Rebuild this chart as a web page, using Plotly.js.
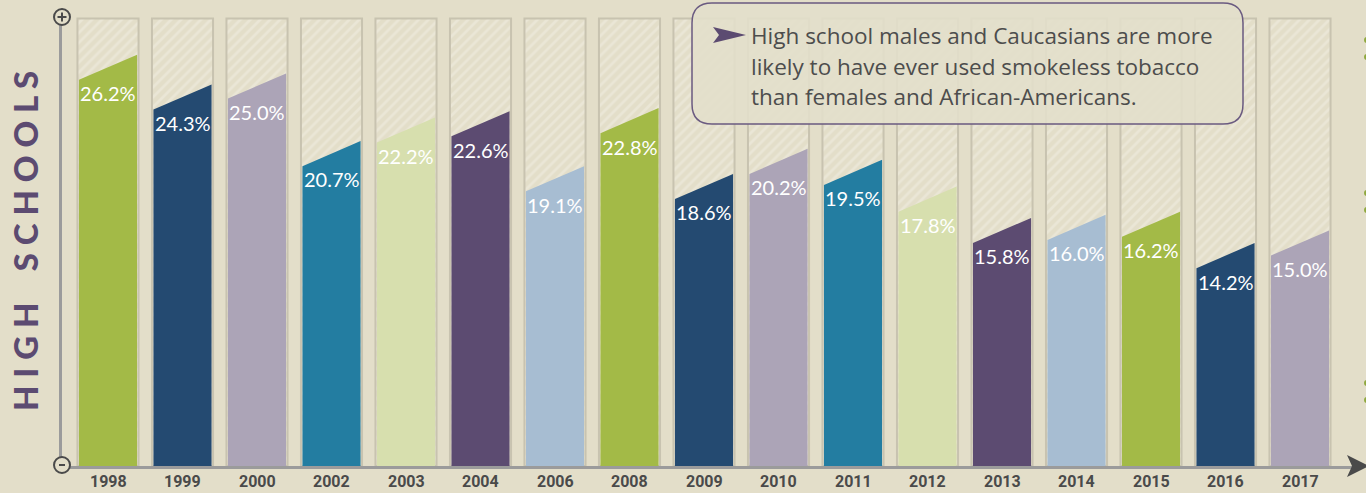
<!DOCTYPE html>
<html>
<head>
<meta charset="utf-8">
<script src="https://cdn.plot.ly/plotly-3.0.1.min.js"></script>
<style>
  html, body { margin: 0; padding: 0; background: #e3dec9; }
  #chart { width: 1366px; height: 493px; }
</style>
</head>
<body>
<div id="chart"></div>
<script>
// smokeless tobacco, high schools
var years = ['1998', '1999', '2000', '2002', '2003', '2004', '2006', '2008', '2009',
  '2010', '2011', '2012', '2013', '2014', '2015', '2016', '2017'];
var values = [26.2, 24.3, 25.0, 20.7, 22.2, 22.6, 19.1, 22.8, 18.6,
  20.2, 19.5, 17.8, 15.8, 16.0, 16.2, 14.2, 15.0];
var palette = ['#a3ba47', '#244a71', '#aca4b7', '#237da1', '#d7dfae', '#5c4b71', '#a7bdd2'];
var backMax = 28.5;   // hatched backdrop height
var calloutLines = [
  'High school males and Caucasians are more',
  'likely to have ever used smokeless tobacco',
  'than females and African-Americans.'
];

var W = 1366, H = 493;
var mL = 62, mR = 14, mT = 10, mB = 27;
var pw = W - mL - mR, ph = H - mT - mB;
var slant = 1.6, half = 0.39;

// pixel -> paper helpers for decoration only
function px(x) { return (x - mL) / pw; }
function py(y) { return (H - mB - y) / ph; }

var idx = years.map(function (y, i) { return i; });

var traces = [];
// hatched backdrop bars
traces.push({
  type: 'bar',
  x: idx,
  y: idx.map(function () { return backMax; }),
  width: 0.82,
  marker: {
    color: '#d2cdb8',
    line: { color: '#c8c3b0', width: 2 },
    pattern: { shape: '/', fgcolor: '#eae6d6', size: 7, solidity: 0.4 }
  },
  hoverinfo: 'skip',
  showlegend: false
});

// slanted-top colored bars
values.forEach(function (v, i) {
  traces.push({
    type: 'scatter',
    mode: 'lines',
    x: [i - half, i - half, i + half, i + half, i - half],
    y: [0, v - slant, v, 0, 0],
    fill: 'toself',
    fillcolor: palette[i % palette.length],
    line: { width: 0, color: palette[i % palette.length] },
    hoverinfo: 'skip',
    showlegend: false
  });
});

var annotations = values.map(function (v, i) {
  return {
    x: i, y: v - 2.45, xref: 'x', yref: 'y',
    text: v.toFixed(1) + '%',
    showarrow: false, xanchor: 'center', yanchor: 'middle',
    font: { family: 'Lato, sans-serif', size: 20, color: '#ffffff' }
  };
});

// year labels under the baseline
years.forEach(function (t, i) {
  annotations.push({
    x: i, y: py(481), xref: 'x', yref: 'paper',
    text: t, showarrow: false, xanchor: 'center', yanchor: 'middle',
    font: { family: 'Roboto, sans-serif', size: 16, weight: 700, color: '#4a4a4a' }
  });
});

annotations.push({
  x: px(25), y: py(241), xref: 'paper', yref: 'paper',
  text: 'H I G H    S C H O O L S',
  textangle: -90, showarrow: false, xanchor: 'center', yanchor: 'middle',
  font: { family: 'Lato, sans-serif', size: 33, weight: 900, color: '#5c4b71' }
});

var lineY = [35, 66, 96];
calloutLines.forEach(function (t, k) {
  annotations.push({
    x: px(749), y: py(lineY[k]), xref: 'paper', yref: 'paper',
    text: t, showarrow: false, xanchor: 'left', yanchor: 'middle',
    font: { family: 'Open Sans, sans-serif', size: 22.5, color: '#4d4d4d' }
  });
});

function roundRect(x0, y0, x1, y1, r) {
  var rx = r / pw, ry = r / ph;
  var X0 = px(x0), X1 = px(x1), Y0 = py(y0), Y1 = py(y1);
  return 'M' + (X0 + rx) + ',' + Y0 +
    ' L' + (X1 - rx) + ',' + Y0 + ' Q' + X1 + ',' + Y0 + ' ' + X1 + ',' + (Y0 - ry) +
    ' L' + X1 + ',' + (Y1 + ry) + ' Q' + X1 + ',' + Y1 + ' ' + (X1 - rx) + ',' + Y1 +
    ' L' + (X0 + rx) + ',' + Y1 + ' Q' + X0 + ',' + Y1 + ' ' + X0 + ',' + (Y1 + ry) +
    ' L' + X0 + ',' + (Y0 - ry) + ' Q' + X0 + ',' + Y0 + ' ' + (X0 + rx) + ',' + Y0 + ' Z';
}
function poly(pts) {
  return pts.map(function (p, k) { return (k ? 'L' : 'M') + px(p[0]) + ',' + py(p[1]); }).join(' ') + ' Z';
}
function circle(cx, cy, r, fill, col, w) {
  return {
    type: 'circle', xref: 'paper', yref: 'paper',
    x0: px(cx - r), x1: px(cx + r), y0: py(cy + r), y1: py(cy - r),
    fillcolor: fill, line: { color: col, width: w }, layer: 'above'
  };
}

var shapes = [
  // callout box
  { type: 'path', xref: 'paper', yref: 'paper', path: roundRect(692, 3, 1243, 124, 20),
    fillcolor: 'rgba(227,223,203,0.88)', line: { color: '#6a5a80', width: 1.5 }, layer: 'above' },
  { type: 'path', xref: 'paper', yref: 'paper', path: poly([[713, 27], [746, 35], [713, 43], [719, 35]]),
    fillcolor: '#5c4b71', line: { width: 0 }, layer: 'above' },
  // axis ends
  circle(62, 17, 8, '#e3dec9', '#4a4a4a', 2),
  { type: 'line', xref: 'paper', yref: 'paper', x0: px(57.5), x1: px(66.5), y0: py(17), y1: py(17),
    line: { color: '#4a4a4a', width: 2 }, layer: 'above' },
  { type: 'line', xref: 'paper', yref: 'paper', x0: px(62), x1: px(62), y0: py(12.5), y1: py(21.5),
    line: { color: '#4a4a4a', width: 2 }, layer: 'above' },
  circle(62, 465, 8, '#e3dec9', '#4a4a4a', 2),
  { type: 'line', xref: 'paper', yref: 'paper', x0: px(59), x1: px(65), y0: py(465), y1: py(465),
    line: { color: '#4a4a4a', width: 2 }, layer: 'above' },
  { type: 'path', xref: 'paper', yref: 'paper', path: poly([[1347, 455], [1369, 466], [1347, 477], [1352, 466]]),
    fillcolor: '#4a4a4a', line: { width: 0 }, layer: 'above' }
];
// green dots at right edge (neighbouring panel)
[40, 57, 193, 210, 383, 400].forEach(function (y) {
  shapes.push(circle(1367, y, 3, '#8fa83e', '#8fa83e', 0));
});

var layout = {
  width: W, height: H,
  margin: { l: mL, r: mR, t: mT, b: mB, pad: 0 },
  paper_bgcolor: '#e3dec9',
  plot_bgcolor: 'rgba(0,0,0,0)',
  showlegend: false,
  hovermode: false,
  xaxis: {
    range: [-(108 - mL) / 74.5, -(108 - mL) / 74.5 + pw / 74.5],
    showticklabels: false,
    showgrid: false, zeroline: false,
    showline: true, linecolor: '#9b9b9b', linewidth: 3,
    ticks: '',
    fixedrange: true
  },
  yaxis: {
    range: [0, ph / 15.7],
    showgrid: false, zeroline: false, showticklabels: false,
    showline: true, linecolor: '#9b9b9b', linewidth: 3,
    fixedrange: true
  },
  annotations: annotations,
  shapes: shapes
};

Plotly.newPlot('chart', traces, layout, { displayModeBar: false, staticPlot: true });
</script>
</body>
</html>
